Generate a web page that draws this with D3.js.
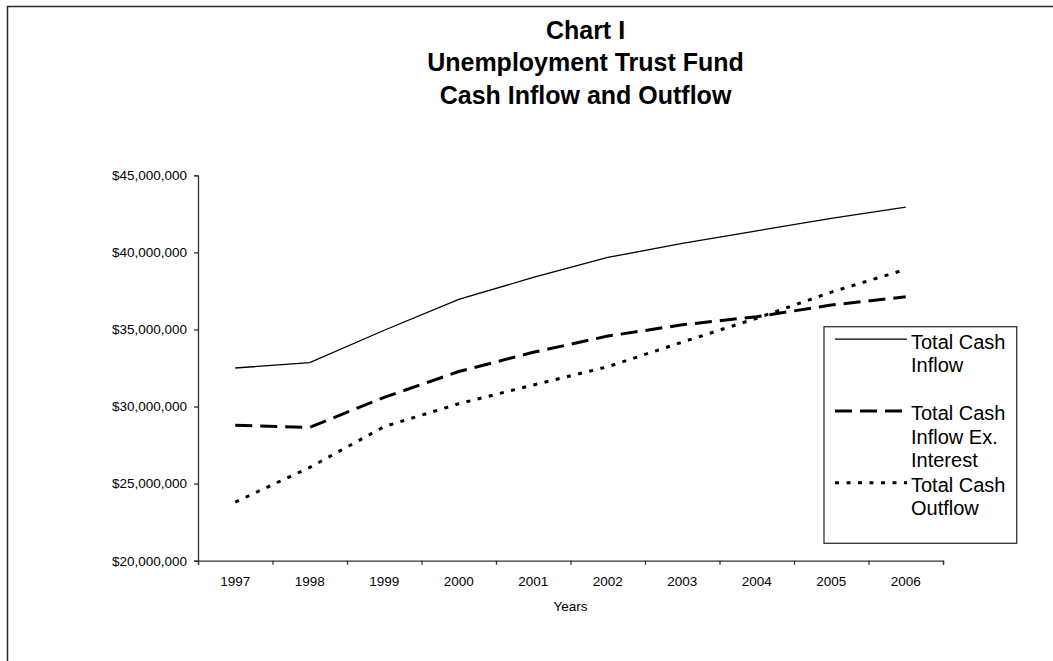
<!DOCTYPE html>
<html>
<head>
<meta charset="utf-8">
<script src="https://cdn.jsdelivr.net/npm/d3@7"></script>
<style>
  body { margin: 0; background: #fff; }
  svg { display: block; font-family: "Liberation Sans", Arial, sans-serif; }
</style>
</head>
<body>
<div id="chart"></div>
<script>
// Chart data
var years = ["1997", "1998", "1999", "2000", "2001", "2002", "2003", "2004", "2005", "2006"];
var totalInflow = [32500000, 32850000, 34950000, 36950000, 38380000, 39670000, 40580000, 41400000, 42200000, 42940000];
var inflowExInterest = [28780000, 28650000, 30600000, 32270000, 33520000, 34570000, 35300000, 35830000, 36580000, 37120000];
var totalOutflow = [23800000, 26050000, 28700000, 30180000, 31400000, 32580000, 34180000, 35730000, 37420000, 38900000];
var yTicks = [20000000, 25000000, 30000000, 35000000, 40000000, 45000000];
var titleLines = ["Chart I", "Unemployment Trust Fund", "Cash Inflow and Outflow"];
var seriesNames = [["Total Cash", "Inflow"], ["Total Cash", "Inflow Ex.", "Interest"], ["Total Cash", "Outflow"]];

var W = 1053, H = 661;
var plot = { left: 198, right: 943, top: 175.3, bottom: 560.7 };

var svg = d3.select("#chart")
    .append("svg")
    .attr("width", W)
    .attr("height", H);

// outer chart frame (runs off the right and bottom of the picture)
svg.append("rect")
    .attr("x", 7.5)
    .attr("y", 6.5)
    .attr("width", 1200)
    .attr("height", 800)
    .attr("fill", "none")
    .attr("stroke", "#2a2a2a")
    .attr("stroke-width", 1.5);

// Title
svg.append("text")
    .attr("text-anchor", "middle")
    .style("font-size", "25px")
    .style("font-weight", "bold")
    .selectAll("tspan")
    .data(titleLines)
    .enter().append("tspan")
    .attr("x", 585.5)
    .attr("y", function (d, i) { return 39 + i * 32.3; })
    .text(function (d) { return d; });

// Scales
var xScale = d3.scaleBand()
    .domain(years)
    .range([plot.left, plot.right]);

var xEdge = d3.scaleLinear()
    .domain([0, years.length])
    .range([plot.left, plot.right]);

var yScale = d3.scaleLinear()
    .domain([20000000, 45000000])
    .range([plot.bottom, plot.top]);

// Y axis
var yAxis = svg.append("g")
    .attr("transform", "translate(" + plot.left + ",0)")
    .call(d3.axisLeft(yScale)
        .tickValues(yTicks)
        .tickSize(4)
        .tickPadding(7)
        .tickFormat(d3.format("$,")));

// X axis: tick marks on category edges
var xTicks = svg.append("g")
    .attr("transform", "translate(0," + plot.bottom + ")")
    .call(d3.axisBottom(xEdge)
        .tickValues(d3.range(years.length + 1))
        .tickSize(4)
        .tickFormat(""));

// X axis labels centred on categories
var xLabels = svg.append("g")
    .attr("transform", "translate(0," + plot.bottom + ")")
    .call(d3.axisBottom(xScale).tickSize(0).tickPadding(16));
xLabels.select(".domain").remove();

[yAxis, xTicks, xLabels].forEach(function (g) {
    g.selectAll("text")
        .style("font-family", "Liberation Sans, Arial, sans-serif")
        .style("font-size", "13.5px")
        .attr("fill", "#000");
    g.selectAll("path, line").attr("stroke", "#333").attr("stroke-width", 1.3);
});

svg.append("text")
    .attr("x", (plot.left + plot.right) / 2)
    .attr("y", 611)
    .attr("text-anchor", "middle")
    .style("font-size", "13.5px")
    .text("Years");

// Lines
var series = [
    { values: totalInflow, width: 1.3, dash: null },
    { values: inflowExInterest, width: 3, dash: "17,8" },
    { values: totalOutflow, width: 3, dash: "4,7.5" }
];

var line = d3.line()
    .x(function (d, i) { return xScale(years[i]) + xScale.bandwidth() / 2; })
    .y(function (d) { return yScale(d); });

series.forEach(function (s) {
    svg.append("path")
        .datum(s.values)
        .attr("fill", "none")
        .attr("stroke", "#000")
        .attr("stroke-width", s.width)
        .attr("stroke-dasharray", s.dash)
        .attr("d", line);
});

// Legend
var legend = svg.append("g");
legend.append("rect")
    .attr("x", 824)
    .attr("y", 326.7)
    .attr("width", 192.7)
    .attr("height", 216.6)
    .attr("fill", "#fff")
    .attr("stroke", "#333")
    .attr("stroke-width", 1.3);

seriesNames.forEach(function (names, i) {
    var base = 348.5 + i * 71.8;
    legend.append("line")
        .attr("x1", 835)
        .attr("x2", 907)
        .attr("y1", base - 9.3)
        .attr("y2", base - 9.3)
        .attr("stroke", "#000")
        .attr("stroke-width", series[i].width)
        .attr("stroke-dasharray", series[i].dash);
    legend.append("text")
        .style("font-size", "20px")
        .selectAll("tspan")
        .data(names)
        .enter().append("tspan")
        .attr("x", 911)
        .attr("y", function (d, j) { return base + j * 23.3; })
        .text(function (d) { return d; });
});
</script>
</body>
</html>
